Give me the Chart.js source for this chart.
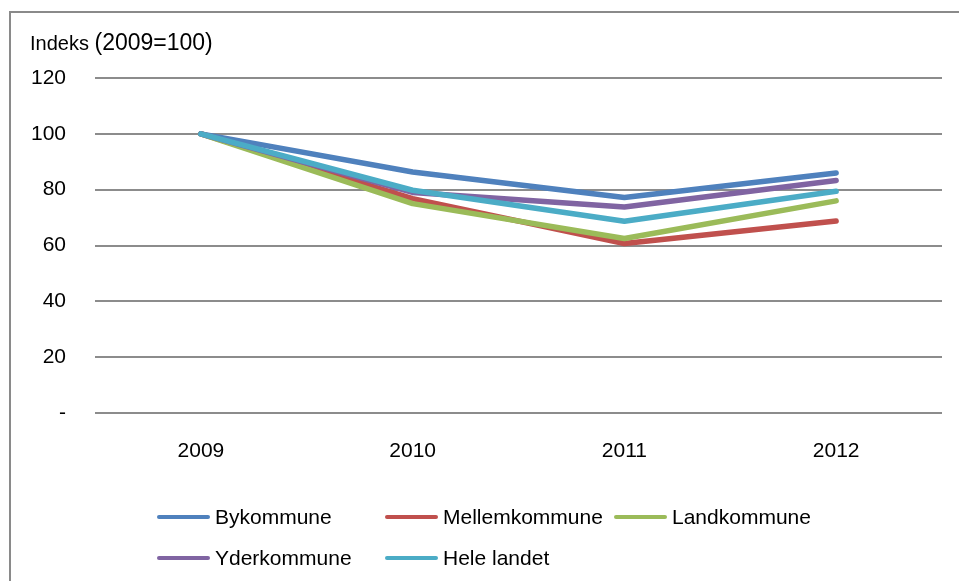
<!DOCTYPE html>
<html>
<head>
<meta charset="utf-8">
<script src="https://cdn.jsdelivr.net/npm/chart.js@4.4.0/dist/chart.umd.min.js"></script>
<style>
  html, body { margin: 0; padding: 0; background: #fff; overflow: hidden; }
  #wrap { position: relative; width: 959px; height: 581px; }
  #frame {
    position: absolute; left: 9px; top: 11px; width: 970px; height: 590px;
    border-left: 2px solid #8a8a8a; border-top: 2px solid #8a8a8a;
  }
  #chart { position: absolute; left: 0; top: 0; }
  #ytitle {
    position: absolute; left: 30px; top: 29px;
    font-family: "Liberation Sans", Arial, sans-serif; color: #000; white-space: nowrap;
  }
  #ytitle .a { font-size: 20px; }
  #ytitle .b { font-size: 23px; }
  #legend {
    position: absolute; left: 157px; top: 503px;
    display: grid; grid-template-columns: 228px 229px 229px; row-gap: 13px;
    font-family: "Liberation Sans", Arial, sans-serif; font-size: 21px; color: #000;
  }
  .item { display: flex; align-items: center; height: 28px; white-space: nowrap; }
  .swatch { width: 53px; height: 4px; border-radius: 2px; margin-right: 5px; }
</style>
</head>
<body>
<div id="wrap">
  <div id="frame"></div>
  <canvas id="chart" width="959" height="581"></canvas>
  <div id="ytitle"><span class="a">Indeks </span><span class="b">(2009=100)</span></div>
  <div id="legend"></div>
</div>
<script>
// Index values (2009 = 100)
const years = ['2009', '2010', '2011', '2012'];
const bykommune = [100, 86.3, 77.2, 86.0];
const mellemkommune = [100, 76.8, 60.7, 68.8];
const landkommune = [100, 75.0, 62.5, 76.0];
const yderkommune = [100, 79.0, 73.8, 83.3];
const heleLandet = [100, 79.8, 68.7, 79.4];

const seriesNames = ['Bykommune', 'Mellemkommune', 'Landkommune', 'Yderkommune', 'Hele landet'];
const seriesData = [bykommune, mellemkommune, landkommune, yderkommune, heleLandet];
const seriesColors = ['#4f81bd', '#c0504d', '#9bbb59', '#8064a2', '#4bacc6'];

const font = "'Liberation Sans', Arial, sans-serif";

const datasets = seriesNames.map((name, i) => ({
    label: name,
    data: seriesData[i],
    borderColor: seriesColors[i],
    backgroundColor: seriesColors[i],
    borderWidth: 5.5,
    borderCapStyle: 'round',
    borderJoinStyle: 'round',
    pointRadius: 0,
    tension: 0,
    // later series drawn on top, like the original
    order: seriesNames.length - i
}));

const chart = new Chart(document.getElementById('chart').getContext('2d'), {
    type: 'line',
    data: { labels: years, datasets },
    options: {
        responsive: false,
        animation: false,
        layout: { padding: { left: 0, top: 78, right: 17, bottom: 0 } },
        plugins: {
            legend: { display: false },
            tooltip: { enabled: false }
        },
        scales: {
            x: {
                offset: true,
                grid: { display: false, drawTicks: false },
                border: { display: false },
                ticks: { color: '#000', font: { family: font, size: 21 }, padding: 26 },
                afterFit: scale => { scale.height = 168; }
            },
            y: {
                min: 0,
                max: 120,
                grid: { color: '#8c8c8c', lineWidth: 2, drawTicks: false },
                border: { display: false },
                ticks: {
                    stepSize: 20,
                    color: '#000',
                    font: { family: font, size: 21 },
                    padding: 29,
                    callback: v => (v === 0 ? '-' : v)
                },
                afterFit: scale => { scale.width = 95; }
            }
        }
    }
});

// Legend laid out in columns as in the original
const legendEl = document.getElementById('legend');
chart.data.datasets.forEach(ds => {
    const item = document.createElement('div');
    item.className = 'item';
    const sw = document.createElement('span');
    sw.className = 'swatch';
    sw.style.background = ds.borderColor;
    const txt = document.createElement('span');
    txt.textContent = ds.label;
    item.appendChild(sw);
    item.appendChild(txt);
    legendEl.appendChild(item);
});
</script>
</body>
</html>
